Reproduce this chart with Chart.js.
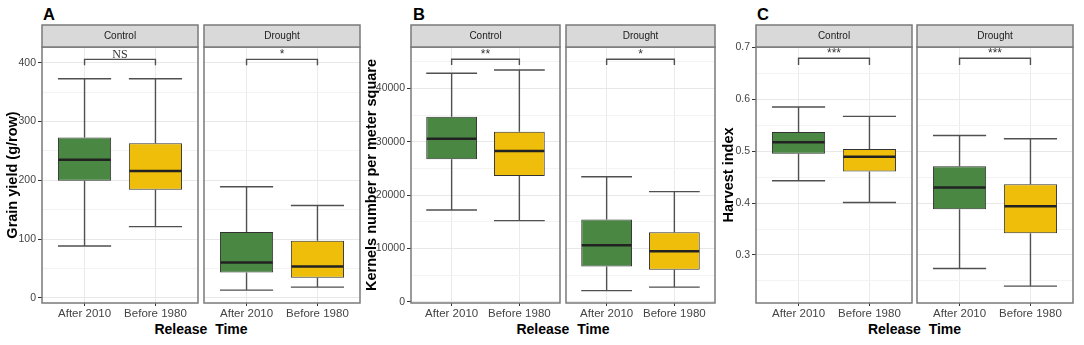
<!DOCTYPE html>
<html>
<head>
<meta charset="utf-8">
<script src="https://cdn.jsdelivr.net/npm/chart.js@4.4.1/dist/chart.umd.min.js"></script>
<style>
  html, body { margin: 0; padding: 0; background: #fff; }
  #fig { position: relative; width: 1084px; height: 345px; overflow: hidden; background: #fff; }
  #fig canvas { position: absolute; }
  .tag { position: absolute; font: bold 16.5px 'Liberation Sans', Arial, sans-serif; line-height: 1; color: #000; }
  .xtitle { position: absolute; top: 321px; height: 16px; text-align: center; color: #000; white-space: pre;
            font: bold 14px 'Liberation Sans Narrow', 'Liberation Sans', Arial, sans-serif; line-height: 16px; }
</style>
</head>
<body>
<div id="fig">
  <div class="tag" style="left:43px;top:6px">A</div>
  <div class="tag" style="left:413px;top:6px">B</div>
  <div class="tag" style="left:757px;top:6px">C</div>
  <div class="xtitle" style="left:42px;width:318px">Release  Time</div>
  <div class="xtitle" style="left:411px;width:304px">Release  Time</div>
  <div class="xtitle" style="left:756px;width:317px">Release  Time</div>
</div>

<script>
  const releaseGroups = ['After 2010', 'Before 1980'];
  const waterRegimes = ['Control', 'Drought'];

  // box stats per release group: [lower whisker, Q1, median, Q3, upper whisker]
  const grainControl = [[88, 199, 235, 273, 373], [121, 184, 216, 263, 373]];
  const grainDrought = [[13, 43, 60, 112, 189], [18, 34, 53, 97, 157]];
  const kernelsControl = [[17190, 26700, 30570, 34690, 42830], [15190, 23570, 28260, 31880, 43440]];
  const kernelsDrought = [[2070, 6600, 10600, 15400, 23440], [2720, 6000, 9450, 13040, 20630]];
  const harvestControl = [[0.443, 0.495, 0.517, 0.537, 0.585], [0.401, 0.461, 0.489, 0.504, 0.567]];
  const harvestDrought = [[0.274, 0.388, 0.430, 0.471, 0.530], [0.240, 0.342, 0.394, 0.436, 0.524]];

  const grainTicks = [0, 100, 200, 300, 400];
  const kernelsTicks = [0, 10000, 20000, 30000, 40000];
  const harvestTicks = [0.3, 0.4, 0.5, 0.6, 0.7];

  // significance bracket: [bar level, tip end]
  const grainBracket = [406, 396];
  const kernelsBracket = [45450, 44380];
  const harvestBracket = [0.679, 0.666];
  const grainSig = ['NS', '*'];
  const kernelsSig = ['**', '*'];
  const harvestSig = ['***', '***'];

  const GREEN = '#4a8742';
  const YELLOW = '#efbe0b';
  const NARROW = "'Liberation Sans Narrow', 'Liberation Sans', Arial, sans-serif";

  Chart.defaults.font.family = NARROW;
  Chart.defaults.color = '#4d4d4d';

  const panels = [
    { title: 'Grain yield (g/row)', ticks: grainTicks, min: -9, max: 427,
      stats: [grainControl, grainDrought], bracket: grainBracket, sig: grainSig,
      facets: [[42, 198], [204, 360]], axisW: 42, titlePad: 4.3 },
    { title: 'Kernels number per meter square', ticks: kernelsTicks, min: -250, max: 47760,
      stats: [kernelsControl, kernelsDrought], bracket: kernelsBracket, sig: kernelsSig,
      facets: [[411, 560], [566, 715]], axisW: 48, titlePad: 0 },
    { title: 'Harvest index', ticks: harvestTicks, min: 0.2075, max: 0.7006,
      stats: [harvestControl, harvestDrought], bracket: harvestBracket, sig: harvestSig,
      facets: [[756, 912], [917, 1073]], axisW: 38, titlePad: 2.3 }
  ];

  const STRIP_H = 22;
  const TOP = 22;          // canvas top
  const CANVAS_H = 303;

  function gridValues(ticks, min, max) {
    const half = (ticks[1] - ticks[0]) / 2;
    const vals = [ticks[0] - half];
    ticks.forEach(t => { vals.push(t); vals.push(t + half); });
    return vals.filter(v => v >= min && v <= max);
  }

  function facetPlugin(stats, bracket, sig, strip) {
    return {
      id: 'facet',
      afterDatasetsDraw(chart) {
        const ctx = chart.ctx;
        const yScale = chart.scales.y;
        const bars = chart.getDatasetMeta(0).data;
        const py = v => yScale.getPixelForValue(v);
        ctx.save();
        stats.forEach((s, i) => {
          const bar = bars[i];
          const half = bar.width / 2;
          ctx.strokeStyle = '#505050';
          ctx.lineWidth = 1.4;
          ctx.beginPath();
          ctx.moveTo(bar.x, py(s[1])); ctx.lineTo(bar.x, py(s[0]));
          ctx.moveTo(bar.x, py(s[3])); ctx.lineTo(bar.x, py(s[4]));
          ctx.moveTo(bar.x - half, py(s[0])); ctx.lineTo(bar.x + half, py(s[0]));
          ctx.moveTo(bar.x - half, py(s[4])); ctx.lineTo(bar.x + half, py(s[4]));
          ctx.stroke();
          ctx.strokeStyle = '#222';
          ctx.lineWidth = 2.5;
          ctx.beginPath();
          ctx.moveTo(bar.x - half + 0.5, py(s[2])); ctx.lineTo(bar.x + half - 0.5, py(s[2]));
          ctx.stroke();
        });
        const x1 = bars[0].x, x2 = bars[1].x;
        const yb = py(bracket[0]), yt = py(bracket[1]);
        ctx.strokeStyle = '#505050';
        ctx.lineWidth = 1.4;
        ctx.beginPath();
        ctx.moveTo(x1, yt); ctx.lineTo(x1, yb); ctx.lineTo(x2, yb); ctx.lineTo(x2, yt);
        ctx.stroke();
        ctx.fillStyle = '#333';
        ctx.font = sig === 'NS' ? "12px 'Liberation Serif', serif" : '12px ' + NARROW;
        ctx.textAlign = 'center';
        ctx.textBaseline = 'alphabetic';
        ctx.fillText(sig, (x1 + x2) / 2, yb - 1.5);
        ctx.restore();
      },
      afterDraw(chart) {
        const ctx = chart.ctx;
        const a = chart.chartArea;
        ctx.save();
        ctx.strokeStyle = '#7a7a7a';
        ctx.lineWidth = 1.5;
        ctx.strokeRect(a.left, a.top, a.right - a.left, a.bottom - a.top);
        ctx.fillStyle = '#d9d9d9';
        ctx.fillRect(a.left, a.top - STRIP_H, a.right - a.left, STRIP_H);
        ctx.strokeRect(a.left, a.top - STRIP_H, a.right - a.left, STRIP_H);
        ctx.fillStyle = '#1a1a1a';
        ctx.font = '10px ' + NARROW;
        ctx.textAlign = 'center';
        ctx.textBaseline = 'middle';
        ctx.fillText(strip, (a.left + a.right) / 2, a.top - STRIP_H / 2);
        ctx.restore();
      }
    };
  }

  function drawFacet(panel, f) {
    const first = f === 0;
    const [left, right] = panel.facets[f];
    const axisW = first ? panel.axisW : 0;
    const padL = first ? 0 : 2;
    const canvasLeft = left - axisW - padL;
    const width = right + 2 - canvasLeft;
    const stats = panel.stats[f];
    const grid = gridValues(panel.ticks, panel.min, panel.max);
    const isMajor = v => panel.ticks.includes(v);

    const canvas = document.createElement('canvas');
    canvas.width = width;
    canvas.height = CANVAS_H;
    canvas.style.left = canvasLeft + 'px';
    canvas.style.top = TOP + 'px';
    canvas.style.width = width + 'px';
    canvas.style.height = CANVAS_H + 'px';
    document.getElementById('fig').appendChild(canvas);

    new Chart(canvas.getContext('2d'), {
      type: 'bar',
      data: {
        datasets: [{
          data: stats.map((s, i) => ({ x: i + 1, y: [s[1], s[3]] })),
          backgroundColor: [GREEN, YELLOW],
          borderColor: '#333',
          borderWidth: 1,
          borderSkipped: false,
          categoryPercentage: 1,
          barPercentage: 0.75
        }]
      },
      options: {
        responsive: false,
        animation: false,
        devicePixelRatio: 1,
        layout: { padding: { top: STRIP_H + 3, bottom: 2, left: padL, right: 2 } },
        plugins: { legend: { display: false }, tooltip: { enabled: false } },
        scales: {
          x: {
            type: 'linear',
            min: 0.4,
            max: 2.6,
            offset: false,
            afterBuildTicks: s => { s.ticks = releaseGroups.map((_, i) => ({ value: i + 1 })); },
            ticks: {
              callback: v => releaseGroups[v - 1],
              font: { size: 11.5 },
              color: '#444',
              padding: 1,
              maxRotation: 0,
              autoSkip: false
            },
            grid: { offset: false, color: '#ebebeb', tickColor: '#333', tickLength: 3 },
            border: { display: false },
            afterFit: s => { s.height = 20; }
          },
          y: {
            min: panel.min,
            max: panel.max,
            afterBuildTicks: s => { s.ticks = grid.map(v => ({ value: v })); },
            ticks: {
              display: first,
              autoSkip: false,
              callback: v => isMajor(v) ? String(v) : '',
              font: { size: 10.5 },
              color: '#444',
              padding: 2
            },
            grid: {
              color: c => isMajor(c.tick.value) ? '#e8e8e8' : '#f3f3f3',
              tickColor: c => isMajor(c.tick.value) ? '#333' : 'rgba(0,0,0,0)',
              tickLength: 4,
              drawTicks: first
            },
            border: { display: false },
            title: {
              display: first,
              text: panel.title,
              color: '#000',
              font: { family: "'Liberation Sans', Arial, sans-serif", size: 14.5, weight: 'bold' },
              padding: { top: panel.titlePad, bottom: 0 }
            },
            afterFit: s => { s.width = axisW; }
          }
        }
      },
      plugins: [facetPlugin(stats, panel.bracket, panel.sig[f], waterRegimes[f])]
    });
  }

  panels.forEach(p => { drawFacet(p, 0); drawFacet(p, 1); });
</script>
</body>
</html>
